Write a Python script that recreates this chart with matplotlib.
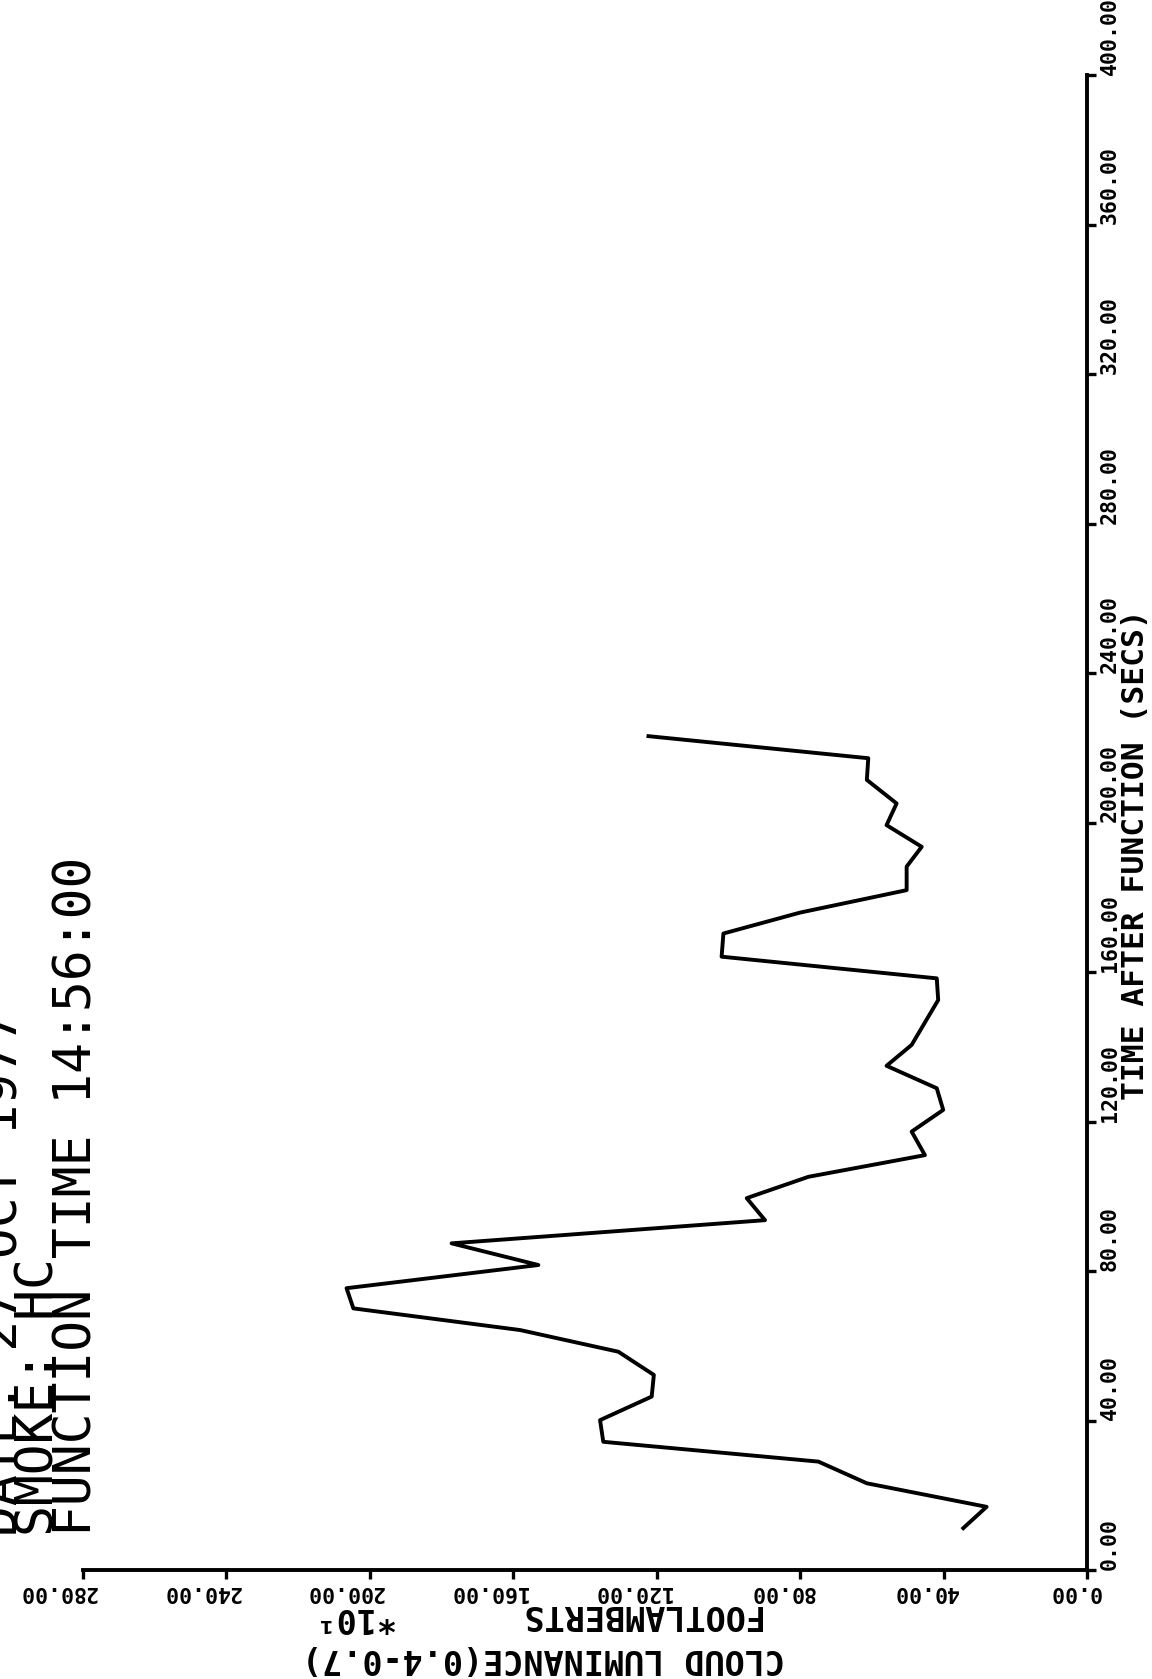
import matplotlib.pyplot as plt
from matplotlib.transforms import ScaledTranslation

# ================== data ==================
time_s = [11.2, 16.9, 23.2, 29.0, 34.3, 40.1, 46.4, 52.2, 58.4, 64.2,
          70.0, 75.4, 81.6, 87.4, 93.6, 99.5, 105.2, 111.0, 117.3, 123.1,
          128.9, 134.9, 140.5, 146.5, 152.5, 158.3, 164.1, 170.3, 175.9, 181.9,
          188.2, 193.5, 199.3, 205.1, 211.4, 217.2, 223.1]
lum = [34.5, 28.0, 61.4, 74.9, 134.9, 135.8, 121.4, 120.8, 130.7, 158.1,
       204.6, 206.5, 153.0, 177.2, 89.8, 94.9, 77.7, 45.2, 48.9, 40.1,
       41.9, 55.9, 48.9, 45.2, 41.5, 41.9, 101.9, 101.4, 80.0, 50.3,
       50.3, 46.1, 55.9, 53.1, 61.4, 61.0, 122.3]

time_ticks = [0, 40, 80, 120, 160, 200, 240, 280, 320, 360, 400]
time_labels = ["0.00", "40.00", "80.00", "120.00", "160.00", "200.00",
               "240.00", "280.00", "320.00", "360.00", "400.00"]
lum_ticks = [0, 40, 80, 120, 160, 200, 240, 280]
lum_labels = ["0.00", "40.00", "80.00", "120.00", "160.00", "200.00",
              "240.00", "280.00"]

title_lines = ["DATE: 27 OCT 1977", "SMOKE: HC", "FUNCTION TIME 14:56:00"]
time_title = "TIME AFTER FUNCTION (SECS)"
lum_title = "CLOUD LUMINANCE(0.4-0.7)"
lum_unit = "FOOTLAMBERTS"
lum_mult = "*10\u00b9"
# ===============================================================

W, H, DPI = 1152, 1679, 100
MONO = "DejaVu Sans Mono"
plt.rcParams["font.family"] = [MONO, "DejaVu Sans"]


def fx(x):
    return x / W


def fy(y):
    return 1 - y / H


fig = plt.figure(figsize=(W / DPI, H / DPI), dpi=DPI)
# page is turned 90 deg: time runs up the right side, luminance runs leftwards
ax = fig.add_axes([fx(83), fy(1570), fx(1087) - fx(83), fy(75) - fy(1570)])

ax.plot(lum, time_s, color="black", lw=2.8, solid_joinstyle="round")

ax.set_xlim(280, 0)
ax.set_ylim(0, 400)
for s in ("top", "left"):
    ax.spines[s].set_visible(False)
for s in ("right", "bottom"):
    ax.spines[s].set_linewidth(2.8)

ax.yaxis.tick_right()
ax.set_xticks(lum_ticks, lum_labels)
ax.set_yticks(time_ticks, time_labels)
ax.tick_params(direction="out", length=6.5, width=2.4, labelsize=15.5)
ax.tick_params(axis="x", labelrotation=180, pad=2)
ax.tick_params(axis="y", labelrotation=90, pad=2.5)

shift = ScaledTranslation(14 / DPI, 0, fig.dpi_scale_trans)
for lbl in ax.get_xticklabels():
    lbl.set_ha("right")
    lbl.set_fontweight("bold")
    lbl.set_transform(lbl.get_transform() + shift)
for lbl in ax.get_yticklabels():
    lbl.set_va("bottom")
    lbl.set_fontweight("bold")

# header, written sideways at the left edge (first line is cut by the page)
for xb, line in zip([17.5, 53.5, 91], title_lines):
    fig.text(fx(xb), fy(1536), line, rotation=90, rotation_mode="anchor",
             ha="left", va="baseline", fontsize=37)

fig.text(fx(1144), fy(1100), time_title, rotation=90, rotation_mode="anchor",
         ha="left", va="baseline", fontsize=22.5, fontweight="bold")

# luminance labels end up upside down
fig.text(fx(785), fy(1649), lum_title, rotation=180, rotation_mode="anchor",
         ha="left", va="baseline", fontsize=24, fontweight="bold")
fig.text(fx(760), fy(1605), lum_unit, rotation=180, rotation_mode="anchor",
         ha="left", va="baseline", fontsize=24, fontweight="bold")
fig.text(fx(393), fy(1608), lum_mult, rotation=180, rotation_mode="anchor",
         ha="left", va="baseline", fontsize=24, fontweight="bold")

fig.savefig("out.png", dpi=DPI)
